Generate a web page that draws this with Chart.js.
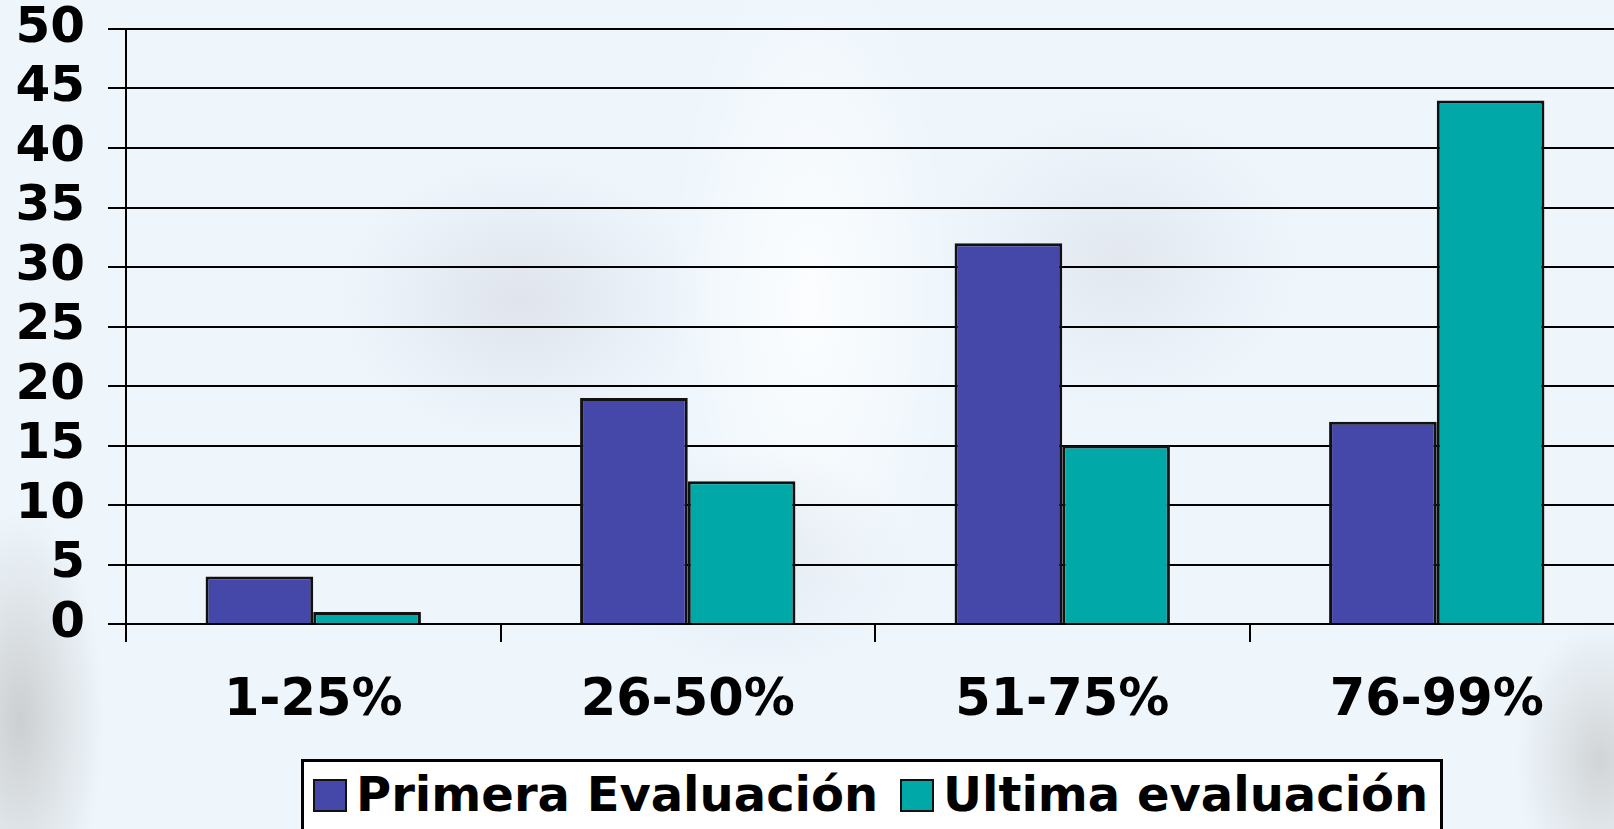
<!DOCTYPE html>
<html>
<head>
<meta charset="utf-8">
<script src="https://cdn.jsdelivr.net/npm/chart.js@4/dist/chart.umd.min.js"></script>
<style>
  html, body { margin: 0; padding: 0; }
  body {
    width: 1614px; height: 829px; overflow: hidden; position: relative;
    background-color: #eef6fc;
    background-image:
      radial-gradient(ellipse 260px 200px at 520px 300px, rgba(200,200,214,0.4), rgba(200,200,214,0) 70%),
      radial-gradient(ellipse 260px 220px at 1120px 260px, rgba(205,205,218,0.35), rgba(205,205,218,0) 70%),
      radial-gradient(ellipse 220px 160px at 760px 560px, rgba(200,205,220,0.3), rgba(200,205,220,0) 70%),
      radial-gradient(ellipse 120px 300px at 20px 720px, rgba(190,190,190,0.7), rgba(190,190,190,0) 70%),
      radial-gradient(ellipse 120px 200px at 1600px 760px, rgba(190,190,190,0.6), rgba(190,190,190,0) 70%),
      radial-gradient(ellipse 200px 500px at 810px 300px, rgba(255,255,255,0.8), rgba(255,255,255,0) 70%);
  }
  #wrap { position: absolute; left: 0; top: -24px; width: 1624px; height: 853px; }
  #legend {
    position: absolute; left: 301px; top: 759px; width: 1142px; height: 100px;
    background: #fff; border: 3px solid #000; box-sizing: border-box;
    font-family: "DejaVu Sans", Verdana, sans-serif; font-weight: bold; font-size: 48px;
    color: #000; white-space: nowrap;
  }
  #legend .item { position: absolute; top: 4px; line-height: 56px; }
  #legend .sw {
    display: inline-block; width: 34px; height: 33px; border: 2px solid #111;
    box-sizing: border-box; vertical-align: middle; margin-right: 9px; position: relative; top: -3px;
  }
</style>
</head>
<body>
<div id="wrap"><canvas id="c" width="1624" height="853"></canvas></div>
<div id="legend"></div>
<script>
const categories = ['1-25%', '26-50%', '51-75%', '76-99%'];
const primeraValues = [4, 19, 32, 17];
const ultimaValues = [1, 12, 15, 44];
const seriesNames = ['Primera Evaluación', 'Ultima evaluación'];
const seriesColors = ['#4548a8', '#00a8a8'];

const FAMILY = '"DejaVu Sans", Verdana, sans-serif';

const chart = new Chart(document.getElementById('c'), {
  type: 'bar',
  data: {
    labels: categories,
    datasets: [
      { label: seriesNames[0], data: primeraValues, backgroundColor: seriesColors[0], borderColor: '#111', borderWidth: 3 },
      { label: seriesNames[1], data: ultimaValues, backgroundColor: seriesColors[1], borderColor: '#111', borderWidth: 3 },
    ],
  },
  options: {
    responsive: false,
    animation: false,
    devicePixelRatio: 1,
    layout: { padding: 0 },
    datasets: { bar: { categoryPercentage: 0.575, barPercentage: 1 } },
    plugins: { legend: { display: false }, tooltip: { enabled: false } },
    scales: {
      x: {
        offset: true,
        grid: { drawOnChartArea: false, drawTicks: true, tickLength: 18, color: '#000', lineWidth: 2, offset: true },
        border: { color: '#000', width: 2 },
        ticks: { color: '#000', font: { family: FAMILY, weight: 'bold', size: 51 }, padding: 29, maxRotation: 0 },
        afterFit: (s) => { s.height = 205; },
      },
      y: {
        min: 0, max: 50,
        grid: { color: '#000', lineWidth: 2, tickLength: 18 },
        border: { color: '#000', width: 2 },
        ticks: { stepSize: 5, autoSkip: false, color: '#000', font: { family: FAMILY, weight: 'bold', size: 50 }, padding: 23 },
        afterFit: (s) => { s.width = 126; },
      },
    },
  },
});

// legend
const legend = document.getElementById('legend');
const itemLeft = [9, 596];
seriesNames.forEach((name, i) => {
  const el = document.createElement('div');
  el.className = 'item';
  el.style.left = itemLeft[i] + 'px';
  el.innerHTML = `<span class="sw" style="background:${seriesColors[i]}"></span>${name}`;
  legend.appendChild(el);
});
</script>
</body>
</html>
